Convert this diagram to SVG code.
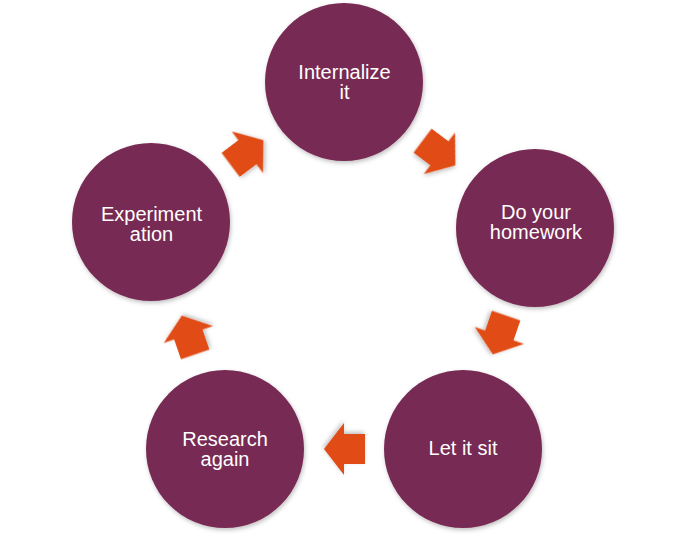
<svg xmlns="http://www.w3.org/2000/svg" width="687" height="539" viewBox="0 0 687 539">
  <defs>
    <filter id="sh" x="-20%" y="-20%" width="140%" height="140%">
      <feDropShadow dx="1" dy="2" stdDeviation="2" flood-color="#000" flood-opacity="0.25"/>
    </filter>
    <polygon id="arr" points="20.5,0 0.5,26 0.5,15 -20.5,15 -20.5,-15 0.5,-15 0.5,-26"/>
  </defs>
  <style>
    .node { fill: #772A53; filter: url(#sh); }
    .lbl { fill: #FFFFFF; font-family: "Liberation Sans", Arial, Helvetica, sans-serif; font-size: 20px; text-anchor: middle; }
    .arrow { fill: #E04C17; filter: url(#sh); }
  </style>
  <rect width="687" height="539" fill="#FFFFFF"/>
  <g id="connectors">
    <use href="#arr" class="arrow" transform="translate(439,153) rotate(37)"/>
    <use href="#arr" class="arrow" transform="translate(499.5,335) rotate(109)"/>
    <use href="#arr" class="arrow" transform="translate(344.5,449) rotate(180)"/>
    <use href="#arr" class="arrow" transform="translate(188.5,335) rotate(-109)"/>
    <use href="#arr" class="arrow" transform="translate(247,152.5) rotate(-37)"/>
  </g>
  <g id="internalize">
    <circle class="node" cx="344" cy="82" r="79"/>
    <text class="lbl" x="344.5" y="79">Internalize</text>
    <text class="lbl" x="344.5" y="99">it</text>
  </g>
  <g id="homework">
    <circle class="node" cx="535" cy="228" r="79"/>
    <text class="lbl" x="536" y="219">Do your</text>
    <text class="lbl" x="536" y="239">homework</text>
  </g>
  <g id="letitsit">
    <circle class="node" cx="463" cy="449" r="79"/>
    <text class="lbl" x="463" y="455">Let it sit</text>
  </g>
  <g id="research">
    <circle class="node" cx="225" cy="449" r="79"/>
    <text class="lbl" x="225" y="446">Research</text>
    <text class="lbl" x="225" y="466">again</text>
  </g>
  <g id="experimentation">
    <circle class="node" cx="151" cy="222" r="79"/>
    <text class="lbl" x="151.5" y="221">Experiment</text>
    <text class="lbl" x="151.5" y="241">ation</text>
  </g>
</svg>
